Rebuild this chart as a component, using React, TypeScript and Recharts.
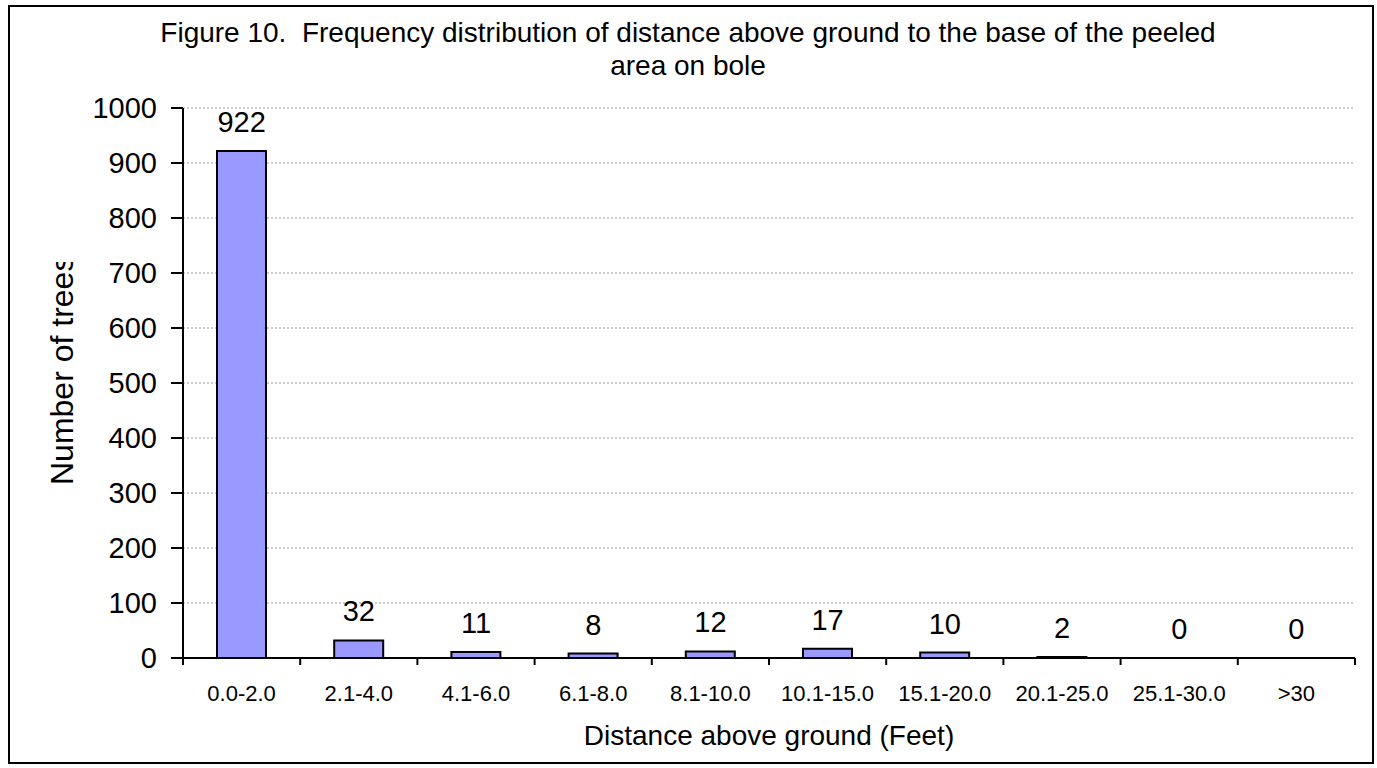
import React from 'react';
import { ComposedChart, Bar, Line, XAxis, YAxis, CartesianGrid, LabelList, Label } from 'recharts';

const categories = ['0.0-2.0', '2.1-4.0', '4.1-6.0', '6.1-8.0', '8.1-10.0', '10.1-15.0', '15.1-20.0', '20.1-25.0', '25.1-30.0', '>30'];
const treeCounts = [922, 32, 11, 8, 12, 17, 10, 2, 0, 0];
const yTicks = [0, 100, 200, 300, 400, 500, 600, 700, 800, 900, 1000];
const titleLines = ['Figure 10.  Frequency distribution of distance above ground to the base of the peeled', 'area on bole'];
const xAxisTitle = 'Distance above ground (Feet)';
const yAxisTitle = 'Number of trees';

const data = categories.map((c, i) => ({ range: c, trees: treeCounts[i] }));

const FONT = '"Liberation Sans", Arial, Helvetica, sans-serif';

const XTick = (props: any) => {
  const { x, y, payload, index, visibleTicksCount, width } = props;
  const half = payload && typeof payload.offset === 'number' && payload.offset > 0 ? payload.offset : width / visibleTicksCount / 2;
  const axisY = y - 6;
  return (
    <g>
      <line x1={x - half} x2={x - half} y1={axisY} y2={axisY + 7} stroke="#000" strokeWidth={2} />
      {index === visibleTicksCount - 1 && (
        <line x1={x + half} x2={x + half} y1={axisY} y2={axisY + 7} stroke="#000" strokeWidth={2} />
      )}
      <text x={x} y={axisY + 43} textAnchor="middle" fontSize={22} fill="#000" fontFamily={FONT}>
        {payload.value}
      </text>
    </g>
  );
};

export default function App() {
  return (
    <div style={{ position: 'absolute', left: 0, top: 0, width: 1377, height: 768, background: '#fff' }}>
      <div
        style={{
          position: 'absolute',
          left: 8,
          top: 5,
          width: 1366,
          height: 759,
          border: '2px solid #000',
          boxSizing: 'border-box',
        }}
      />
      <div style={{ position: 'absolute', left: 0, top: 0 }}>
        <ComposedChart width={1377} height={768} data={data} margin={{ top: 108, right: 22, bottom: 20, left: 83 }}>
          <CartesianGrid vertical={false} stroke="#999" strokeDasharray="2 2" />
          <XAxis
            dataKey="range"
            height={90}
            interval={0}
            tickSize={6}
            tickMargin={0}
            tickLine={false}
            axisLine={{ stroke: '#000', strokeWidth: 2 }}
            tick={<XTick />}
          >
            <Label value={xAxisTitle} position="insideBottom" offset={3} fontSize={28} fill="#000" fontFamily={FONT} />
          </XAxis>
          <YAxis
            domain={[0, 1000]}
            ticks={yTicks}
            interval={0}
            width={100}
            tickSize={12}
            tickMargin={14}
            axisLine={{ stroke: '#000', strokeWidth: 2 }}
            tickLine={{ stroke: '#000', strokeWidth: 2 }}
            tick={{ fontSize: 29, fill: '#000', fontFamily: FONT }}
          />
          <Bar dataKey="trees" fill="#9999FF" stroke="#000" strokeWidth={2} barSize={49} isAnimationActive={false} />
          <Line
            dataKey="trees"
            stroke="none"
            dot={false}
            activeDot={false}
            legendType="none"
            isAnimationActive={false}
          >
            <LabelList dataKey="trees" position="top" offset={19} fontSize={29} fill="#000" fontFamily={FONT} />
          </Line>
        </ComposedChart>
      </div>
      <svg width={1377} height={768} style={{ position: 'absolute', left: 0, top: 0, pointerEvents: 'none' }}>
        <defs>
          <clipPath id="ylabclip">
            <rect x={0} y={262} width={120} height={500} />
          </clipPath>
        </defs>
        <text x={688} y={42} textAnchor="middle" fontSize={28} fill="#000" fontFamily={FONT} style={{ whiteSpace: 'pre' }}>
          {titleLines[0]}
        </text>
        <text x={688} y={75} textAnchor="middle" fontSize={28} fill="#000" fontFamily={FONT}>
          {titleLines[1]}
        </text>
        <g clipPath="url(#ylabclip)">
          <text x={73} y={485} transform="rotate(-90 73 485)" textAnchor="start" fontSize={32} fill="#000" fontFamily={FONT}>
            {yAxisTitle}
          </text>
        </g>
      </svg>
    </div>
  );
}
